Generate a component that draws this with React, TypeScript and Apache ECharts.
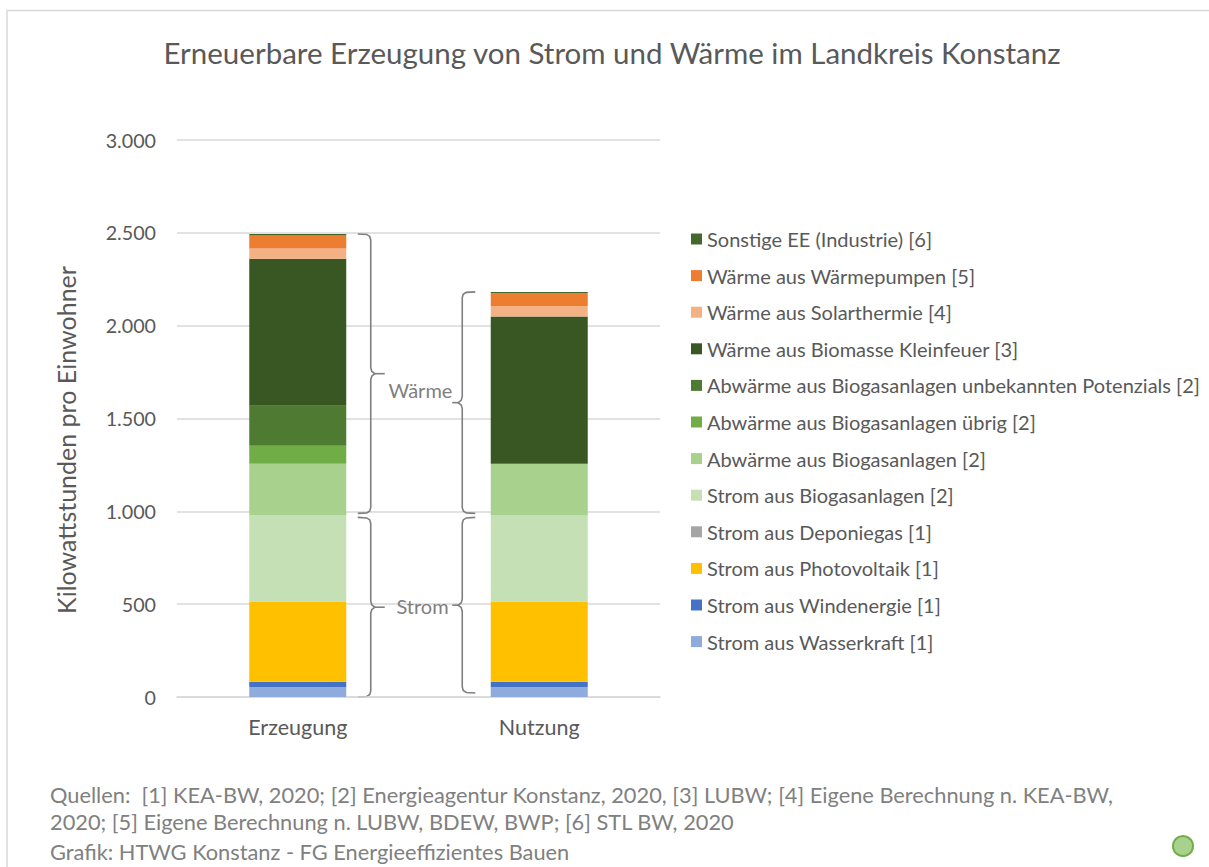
import React, { useEffect, useRef } from "react";
import * as echarts from "echarts";

const categories = ["Erzeugung", "Nutzung"];
const yTicks = [0, 500, 1000, 1500, 2000, 2500, 3000];

const seriesNames = [
  "Strom aus Wasserkraft [1]",
  "Strom aus Windenergie [1]",
  "Strom aus Photovoltaik [1]",
  "Strom aus Deponiegas [1]",
  "Strom aus Biogasanlagen [2]",
  "Abwärme aus Biogasanlagen [2]",
  "Abwärme aus Biogasanlagen übrig [2]",
  "Abwärme aus Biogasanlagen unbekannten Potenzials [2]",
  "Wärme aus Biomasse Kleinfeuer [3]",
  "Wärme aus Solarthermie [4]",
  "Wärme aus Wärmepumpen [5]",
  "Sonstige EE (Industrie) [6]",
];
const seriesColors = [
  "#8FAADC", "#4472C4", "#FFC000", "#A5A5A5", "#C5E0B4", "#A9D18E",
  "#70AD47", "#4E7B31", "#385723", "#F4B183", "#ED7D31", "#43682B",
];

const wasserkraft = [52, 52];
const windenergie = [30, 30];
const photovoltaik = [431, 431];
const deponiegas = [2, 2];
const stromBiogas = [463, 463];
const abwaermeBiogas = [278, 278];
const abwaermeUebrig = [97, 0];
const abwaermeUnbekannt = [215, 0];
const biomasseKleinfeuer = [793, 793];
const solarthermie = [55, 55];
const waermepumpen = [70, 70];
const sonstigeEE = [8, 8];

const seriesValues = [
  wasserkraft, windenergie, photovoltaik, deponiegas, stromBiogas,
  abwaermeBiogas, abwaermeUebrig, abwaermeUnbekannt, biomasseKleinfeuer,
  solarthermie, waermepumpen, sonstigeEE,
];
const stromCount = 5; // first five series are electricity

const titleText = "Erneuerbare Erzeugung von Strom und Wärme im Landkreis Konstanz";
const yAxisName = "Kilowattstunden pro Einwohner";
const sourceLines = [
  "Quellen:  [1] KEA-BW, 2020; [2] Energieagentur Konstanz, 2020, [3] LUBW; [4] Eigene Berechnung n. KEA-BW,",
  "2020; [5] Eigene Berechnung n. LUBW, BDEW, BWP; [6] STL BW, 2020",
  "Grafik: HTWG Konstanz - FG Energieeffizientes Bauen",
];

const FONT = "Lato";
const TXT = "#595959";
const LIGHT = "#7F7F7F";

function fmt(v: number) {
  return String(v).replace(/\B(?=(\d{3})+(?!\d))/g, ".");
}

export default function App() {
  const ref = useRef<HTMLDivElement>(null);
  useEffect(() => {
    document.body.style.margin = "0";
    const chart = echarts.init(ref.current!, null, { renderer: "svg" });
    const option: any = {
      animation: false,
      backgroundColor: "#ffffff",
      grid: { left: 177, right: 549, top: 140, bottom: 170 },
      legend: {
        orient: "vertical",
        left: 686,
        top: 224,
        itemWidth: 11,
        itemHeight: 11,
        itemGap: 16.6,
        icon: "rect",
        data: seriesNames.slice().reverse(),
        textStyle: { fontFamily: FONT, fontSize: 20, color: TXT, lineHeight: 20, padding: [0, 0, 0, 0] },
        selectedMode: false,
      },
      xAxis: {
        type: "category",
        data: categories,
        axisLine: { show: true, lineStyle: { color: "#D9D9D9", width: 1.5 } },
        axisTick: { show: false },
        axisLabel: { fontFamily: FONT, fontSize: 21.5, color: TXT, margin: 19 },
      },
      yAxis: {
        type: "value",
        min: 0,
        max: 3000,
        interval: 500,
        axisLine: { show: false },
        axisTick: { show: false },
        splitLine: { lineStyle: { color: "#D9D9D9", width: 1.5 } },
        axisLabel: {
          fontFamily: FONT, fontSize: 19.7, color: TXT, margin: 21,
          formatter: (v: number) => (yTicks.includes(v) ? fmt(v) : ""),
        },
      },
      series: seriesNames.map((name, i) => ({
        name,
        type: "bar",
        stack: "total",
        barWidth: 97,
        data: seriesValues[i],
        itemStyle: { color: seriesColors[i] },
      })),
    };
    chart.setOption(option);

    const yPix = (v: number) => chart.convertToPixel({ yAxisIndex: 0 }, v) as number;
    const xPix = (c: string) => chart.convertToPixel({ xAxisIndex: 0 }, c) as number;
    const totals = categories.map((_, j) => seriesValues.reduce((s, arr) => s + arr[j], 0));
    const stromTotals = categories.map((_, j) =>
      seriesValues.slice(0, stromCount).reduce((s, arr) => s + arr[j], 0)
    );

    const brace = (xHook: number, xV: number, xTip: number, yTop: number, yBot: number) => {
      const mid = (yTop + yBot) / 2;
      const d = xV > xHook ? 1 : -1;
      const pts = [
        [xHook, yTop],
        [xV - 4 * d, yTop + 0.5],
        [xV - 1 * d, yTop + 2.5],
        [xV, yTop + 6],
        [xV, mid - 6],
        [xV + 1 * d, mid - 2.5],
        [xV + 4 * d, mid],
        [xV + 1 * d, mid + 2.5],
        [xV, mid + 6],
        [xV, yBot - 6],
        [xV - 1 * d, yBot - 2.5],
        [xV - 4 * d, yBot - 0.5],
        [xHook, yBot],
      ];
      return [
        { type: "polyline", shape: { points: pts }, style: { stroke: LIGHT, lineWidth: 1.6, fill: null } },
        { type: "line", shape: { x1: xV + 4 * d, y1: mid, x2: xTip, y2: mid }, style: { stroke: LIGHT, lineWidth: 1.6 } },
      ];
    };

    const c1 = xPix(categories[0]);
    const c2 = xPix(categories[1]);
    const y0 = yPix(0);
    const yS1 = yPix(stromTotals[0]);
    const yS2 = yPix(stromTotals[1]);
    const yT1 = yPix(totals[0]);
    const yT2 = yPix(totals[1]);

    const graphics: any[] = [
      {
        type: "rect", z: -10, silent: true,
        shape: { x: 7, y: 10.5, width: 1300, height: 1000 },
        style: { fill: null, stroke: "#D9D9D9", lineWidth: 1.5 },
      },
      {
        type: "text", x: 612, y: 52,
        style: { text: titleText, fontFamily: FONT, fontSize: 29.5, fill: TXT, align: "center", verticalAlign: "middle" },
      },
      {
        type: "text", x: 66, y: 440, rotation: Math.PI / 2,
        style: { text: yAxisName, fontFamily: FONT, fontSize: 25, fill: TXT, align: "center", verticalAlign: "middle" },
      },
      ...brace(c1 + 60, c1 + 73, c1 + 87, yS1 + 2, y0),
      ...brace(c1 + 60, c1 + 73, c1 + 87, yT1, yS1 - 2),
      ...brace(c2 - 64, c2 - 77, c2 - 87, yS2 + 2, y0 - 4),
      ...brace(c2 - 64, c2 - 77, c2 - 87, yT2, yS2 - 2),
      {
        type: "text", x: (c1 + c2) / 2 + 2, y: ((yT1 + yS1) / 2 + (yT2 + yS2) / 2) / 2 + 1,
        style: { text: "Wärme", fontFamily: FONT, fontSize: 20, fill: LIGHT, align: "center", verticalAlign: "middle" },
      },
      {
        type: "text", x: (c1 + c2) / 2 + 4, y: (y0 + yS1) / 2,
        style: { text: "Strom", fontFamily: FONT, fontSize: 20, fill: LIGHT, align: "center", verticalAlign: "middle" },
      },
      ...sourceLines.map((t, i) => ({
        type: "text", x: 50, y: [794, 821, 851][i],
        style: { text: t, fontFamily: FONT, fontSize: 21.8, fill: "#808080", align: "left", verticalAlign: "middle" },
      })),
      {
        type: "circle", shape: { cx: 1183, cy: 846, r: 10 },
        style: { fill: "#A9D18E", stroke: "#70AD47", lineWidth: 2 },
      },
    ];
    chart.setOption({ graphic: graphics });

    return () => chart.dispose();
  }, []);
  return <div ref={ref} style={{ width: 1209, height: 867 }} />;
}
